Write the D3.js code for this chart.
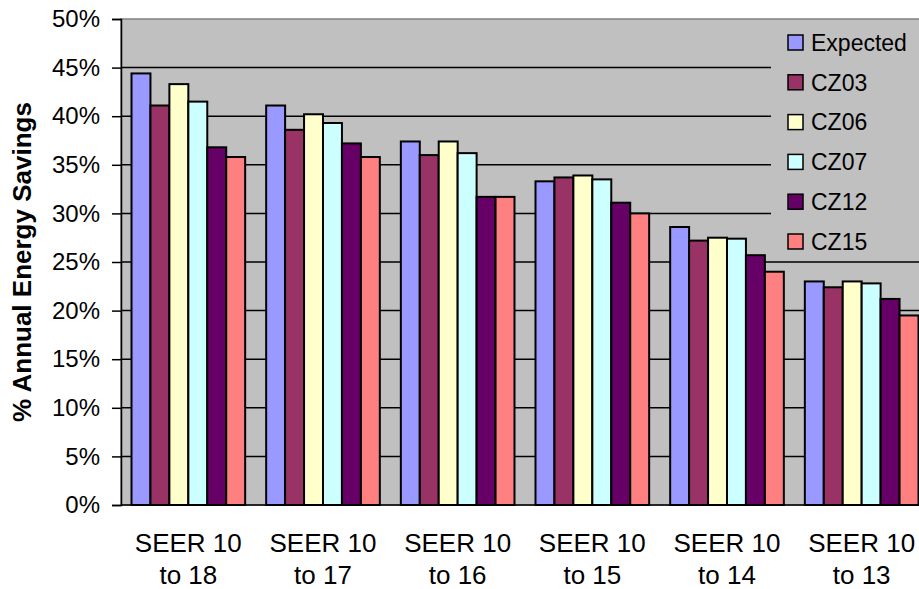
<!DOCTYPE html>
<html>
<head>
<meta charset="utf-8">
<script src="https://cdn.jsdelivr.net/npm/d3@7"></script>
<style>
  body { margin: 0; background: #fff; }
  text { font-family: Arial, "Liberation Sans", sans-serif; fill: #000; }
</style>
</head>
<body>
<svg id="chart" width="919" height="589"></svg>
<script>
// data
var categories = ["SEER 10|to 18", "SEER 10|to 17", "SEER 10|to 16", "SEER 10|to 15", "SEER 10|to 14", "SEER 10|to 13"];
var seriesNames = ["Expected", "CZ03", "CZ06", "CZ07", "CZ12", "CZ15"];
var expected = [0.444, 0.411, 0.374, 0.333, 0.286, 0.230];
var cz03     = [0.411, 0.386, 0.360, 0.337, 0.272, 0.224];
var cz06     = [0.433, 0.402, 0.374, 0.339, 0.275, 0.230];
var cz07     = [0.415, 0.393, 0.362, 0.335, 0.274, 0.228];
var cz12     = [0.368, 0.372, 0.317, 0.311, 0.257, 0.212];
var cz15     = [0.358, 0.358, 0.317, 0.300, 0.240, 0.195];
var yTicks   = [0, 0.05, 0.1, 0.15, 0.2, 0.25, 0.3, 0.35, 0.4, 0.45, 0.5];
var colours  = ["#9999FF", "#993366", "#FFFFCC", "#CCFFFF", "#660066", "#FF8080"];

var values = [expected, cz03, cz06, cz07, cz12, cz15];
var data = categories.map(function(c, i) {
  return { cat: c, vals: seriesNames.map(function(s, j) { return { name: s, v: values[j][i] }; }) };
});

var svg = d3.select("#chart");
var pLeft = 121, pRight = 929, pTop = 19, pBottom = 505;

//Scales
var x0 = d3.scaleBand().domain(categories).range([pLeft, pRight]).paddingInner(0.156).paddingOuter(0.078);
var x1 = d3.scaleBand().domain(seriesNames).range([0, x0.bandwidth()]);
var y = d3.scaleLinear().domain([0, 0.5]).range([pBottom, pTop]);

//Plot background
svg.append("rect")
  .attr("x", pLeft).attr("y", pTop)
  .attr("width", pRight - pLeft).attr("height", pBottom - pTop)
  .attr("fill", "#C0C0C0")
  .attr("stroke", "#808080").attr("stroke-width", 1.5);

//Gridlines
svg.append("g")
  .selectAll("line")
  .data(yTicks.filter(function(t) { return t > 0 && t < 0.5; }))
  .enter().append("line")
  .attr("x1", pLeft).attr("x2", pRight)
  .attr("y1", function(d) { return y(d); }).attr("y2", function(d) { return y(d); })
  .attr("stroke", "#000").attr("stroke-width", 1.5);

//Bars
var groups = svg.append("g")
  .selectAll("g")
  .data(data)
  .enter().append("g")
  .attr("transform", function(d) { return "translate(" + x0(d.cat) + ",0)"; });

groups.selectAll("rect")
  .data(function(d) { return d.vals; })
  .enter().append("rect")
  .attr("x", function(d) { return x1(d.name); })
  .attr("y", function(d) { return y(d.v); })
  .attr("width", x1.bandwidth())
  .attr("height", function(d) { return y(0) - y(d.v); })
  .attr("fill", function(d, i) { return colours[i]; })
  .attr("stroke", "#000").attr("stroke-width", 2);

//Y axis
var yAxis = svg.append("g")
  .attr("transform", "translate(" + pLeft + ",0)")
  .call(d3.axisLeft(y).tickValues(yTicks).tickFormat(d3.format(".0%")).tickSize(9).tickPadding(12));
yAxis.select(".domain").attr("stroke", "#000").attr("stroke-width", 1.5);
yAxis.selectAll(".tick line").attr("stroke", "#000").attr("stroke-width", 1.5);
yAxis.selectAll("text").style("font-size", "24px").attr("font-family", null);

//X axis line
svg.append("line")
  .attr("x1", pLeft).attr("x2", pRight)
  .attr("y1", pBottom).attr("y2", pBottom)
  .attr("stroke", "#000").attr("stroke-width", 1.5);

//Category labels (two lines)
var xl = svg.append("g").selectAll("text")
  .data(categories)
  .enter().append("text")
  .attr("text-anchor", "middle")
  .style("font-size", "26px");
xl.append("tspan")
  .attr("x", function(d) { return x0(d) + x0.bandwidth() / 2; })
  .attr("y", 552)
  .text(function(d) { return d.split("|")[0]; });
xl.append("tspan")
  .attr("x", function(d) { return x0(d) + x0.bandwidth() / 2; })
  .attr("y", 584)
  .text(function(d) { return d.split("|")[1]; });

//Y axis title
svg.append("text")
  .attr("transform", "translate(31," + ((pTop + pBottom) / 2) + ") rotate(-90)")
  .attr("text-anchor", "middle")
  .style("font-size", "26px")
  .style("font-weight", "bold")
  .text("% Annual Energy Savings");

//Legend
var lg = svg.append("g");
lg.append("rect")
  .attr("x", 771).attr("y", 21)
  .attr("width", 160).attr("height", 236)
  .attr("fill", "#C0C0C0");
var items = lg.selectAll("g")
  .data(seriesNames)
  .enter().append("g")
  .attr("transform", function(d, i) { return "translate(788," + (42.5 + i * 39.8) + ")"; });
items.append("rect")
  .attr("x", 0).attr("y", -7.5)
  .attr("width", 15).attr("height", 15)
  .attr("fill", function(d, i) { return colours[i]; })
  .attr("stroke", "#000").attr("stroke-width", 1.5);
items.append("text")
  .attr("x", 23).attr("y", 0).attr("dy", "0.36em")
  .style("font-size", "23px")
  .text(function(d) { return d; });
</script>
</body>
</html>
